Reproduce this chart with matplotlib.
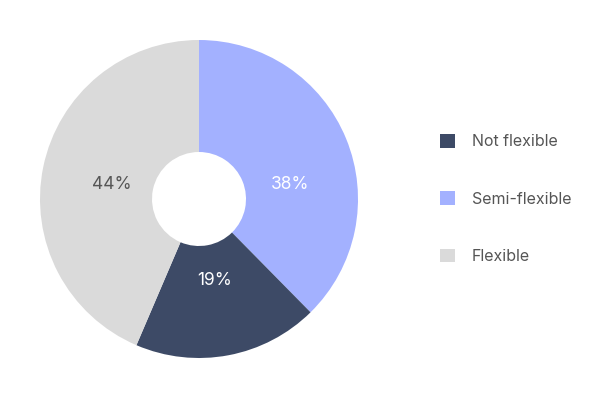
import numpy as np
import matplotlib
matplotlib.use("Agg")
import matplotlib.pyplot as plt
from matplotlib.patches import Patch

plt.rcParams['font.family'] = ['Inter', 'DejaVu Sans']

categories = ["Semi-flexible", "Not flexible", "Flexible"]
values = [38, 19, 44]
colors = ["#a3b1ff", "#3d4a66", "#dadada"]
label_colors = ["white", "white", "#555555"]
legend_order = ["Not flexible", "Semi-flexible", "Flexible"]

fig = plt.figure(figsize=(6, 4), dpi=100)
W, H = 600, 400
cx, cy, R = 199, 199, 159
ax = fig.add_axes([(cx - R) / W, (H - cy - R) / H, 2 * R / W, 2 * R / H])
wedges, _ = ax.pie(values, colors=colors, startangle=90, counterclock=False,
                   radius=1.0, wedgeprops=dict(width=1 - 47 / 159, linewidth=0))
ax.set_xlim(-1, 1)
ax.set_ylim(-1, 1)
ax.set_aspect('equal')
ax.axis('off')

label_shift = [-13, 0, 2]   # degrees, nudges label placement within wedge
label_r = [0.58, 0.52, 0.555]
for w, v, tc, sh, r in zip(wedges, values, label_colors, label_shift, label_r):
    ang = np.deg2rad((w.theta1 + w.theta2) / 2 + sh)
    ax.text(r * np.cos(ang), r * np.sin(ang), f"{v}%", ha='center', va='center',
            fontsize=12.5, color=tc)

handles = [Patch(facecolor=colors[categories.index(c)], edgecolor='none', label=c)
           for c in legend_order]
leg = fig.legend(handles=handles, loc='center left', bbox_to_anchor=(425.5 / W, 1 - 199 / H),
                 frameon=False, fontsize=11.5, handlelength=0.95, handleheight=0.95,
                 labelspacing=2.62, handletextpad=1.05, labelcolor='#555555')

fig.savefig("out.png", dpi=100)
